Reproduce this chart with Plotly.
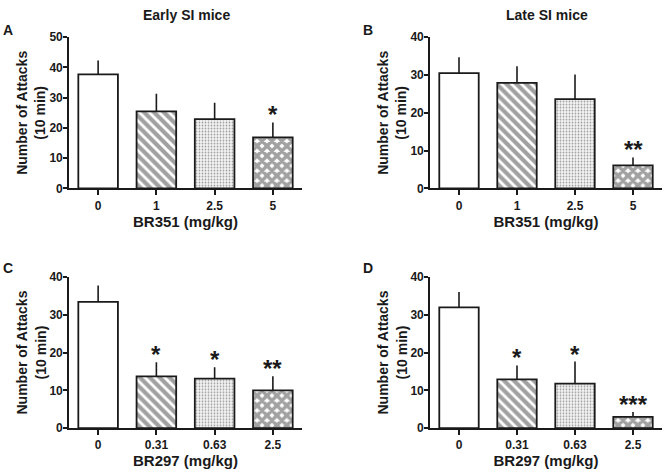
import plotly.graph_objects as go

# ---- data ----
dose_br351 = ["0", "1", "2.5", "5"]
dose_br297 = ["0", "0.31", "0.63", "2.5"]

early_br351_mean = [37.7, 25.5, 22.9, 16.9]
early_br351_sem = [4.6, 5.8, 5.4, 4.9]
early_br351_sig = ["", "", "", "*"]

late_br351_mean = [30.5, 27.9, 23.6, 6.1]
late_br351_sem = [4.2, 4.4, 6.5, 2.1]
late_br351_sig = ["", "", "", "**"]

early_br297_mean = [33.4, 13.7, 13.1, 10.0]
early_br297_sem = [4.3, 3.7, 3.0, 3.7]
early_br297_sig = ["", "*", "*", "**"]

late_br297_mean = [31.9, 12.9, 11.8, 3.0]
late_br297_sem = [4.1, 3.7, 5.8, 1.3]
late_br297_sig = ["", "*", "*", "***"]

y_title = "Number of Attacks<br>(10 min)"

W, H = 666, 475
FONT = "Liberation Sans, Arial, sans-serif"
INK = "#1a1a1a"

panels = [
    ("A", "Early SI mice", "BR351 (mg/kg)", dose_br351, early_br351_mean, early_br351_sem, early_br351_sig, 50, (69, 302), (31, 187)),
    ("B", "Late SI mice", "BR351 (mg/kg)", dose_br351, late_br351_mean, late_br351_sem, late_br351_sig, 40, (430, 662), (31, 187)),
    ("C", "", "BR297 (mg/kg)", dose_br297, early_br297_mean, early_br297_sem, early_br297_sig, 40, (69, 302), (278, 434)),
    ("D", "", "BR297 (mg/kg)", dose_br297, late_br297_mean, late_br297_sem, late_br297_sig, 40, (430, 662), (278, 434)),
]

fill_colors = ["white", "white", "#f6f6f6", "white"]
pat_shapes = ["", "\\", ".", "x"]
pat_fg = ["black", "black", "#9a9a9a", "black"]
pat_size = [6, 7, 3, 7]
pat_sol = [0.3, 0.6, 0.3, 0.75]

fig = go.Figure()
annotations = []
for i, (letter, title, xlab, ticks, mean, sem, sig, ymax, pxx, pxy) in enumerate(panels):
    n = i + 1
    xa = "x" if n == 1 else f"x{n}"
    ya = "y" if n == 1 else f"y{n}"
    xs = list(range(len(ticks)))
    fig.add_trace(go.Bar(
        x=xs, y=mean, xaxis=xa, yaxis=ya, width=0.68,
        marker=dict(
            color=fill_colors,
            line=dict(color=INK, width=1.8),
            pattern=dict(shape=pat_shapes, fgcolor=pat_fg, bgcolor=fill_colors,
                         size=pat_size, solidity=pat_sol),
        ),
        error_y=dict(type="data", symmetric=False, array=sem,
                     arrayminus=[0] * len(sem), width=0, thickness=1.6, color=INK),
        showlegend=False, hoverinfo="skip",
    ))
    dom_x = [pxx[0] / W, pxx[1] / W]
    dom_y = [1 - pxy[1] / H, 1 - pxy[0] / H]
    axis_common = dict(showline=True, linecolor=INK, linewidth=1.6, ticks="outside",
                       ticklen=5, tickwidth=1.6, tickcolor=INK, showgrid=False,
                       zeroline=False,
                       tickfont=dict(family=FONT, size=12, color=INK, weight="bold"))
    fig.update_layout({
        ("xaxis" if n == 1 else f"xaxis{n}"): dict(
            axis_common, domain=dom_x, anchor=ya, range=[-0.5, 3.5],
            tickvals=xs, ticktext=ticks,
            title=dict(text=xlab, standoff=3,
                       font=dict(family=FONT, size=15, color=INK, weight="bold")),
        ),
        ("yaxis" if n == 1 else f"yaxis{n}"): dict(
            axis_common, domain=dom_y, anchor=xa, range=[0, ymax], dtick=10,
            ticklen=4, ticklabelstandoff=-2,
        ),
    })
    # y-axis title (rotated, two lines)
    annotations.append(dict(x=(pxx[0] - 38) / W, y=sum(dom_y) / 2, xref="paper", yref="paper",
                            text=y_title, textangle=-90, showarrow=False,
                            xanchor="center", yanchor="middle",
                            font=dict(family=FONT, size=14, color=INK, weight="bold")))
    for xi, m, s, t in zip(xs, mean, sem, sig):
        if t:
            annotations.append(dict(x=xi, y=m + s, xref=xa, yref=ya, text=t,
                                    showarrow=False, yanchor="bottom", yshift=-8,
                                    font=dict(family=FONT, size=24, color=INK, weight="bold")))
    lx = 8 if pxx[0] < 300 else 368
    ly = 24 if pxy[0] < 100 else 269
    annotations.append(dict(x=lx / W, y=1 - ly / H, xref="paper", yref="paper",
                            text=letter, showarrow=False, xanchor="center", yanchor="middle",
                            font=dict(family=FONT, size=14, color=INK, weight="bold")))
    if title:
        cx = (pxx[0] + pxx[1]) / 2 + 1
        annotations.append(dict(x=cx / W, y=1 - 8 / H, xref="paper", yref="paper",
                                text=title, showarrow=False, xanchor="center", yanchor="middle",
                                font=dict(family=FONT, size=14, color=INK, weight="bold")))

fig.update_layout(width=W, height=H, margin=dict(l=0, r=0, t=0, b=0),
                  paper_bgcolor="white", plot_bgcolor="white",
                  annotations=annotations, bargap=0.3)
fig.write_html("out.html", config={"displayModeBar": False},
               post_script="document.body.style.margin='0';document.body.style.overflow='hidden';")
